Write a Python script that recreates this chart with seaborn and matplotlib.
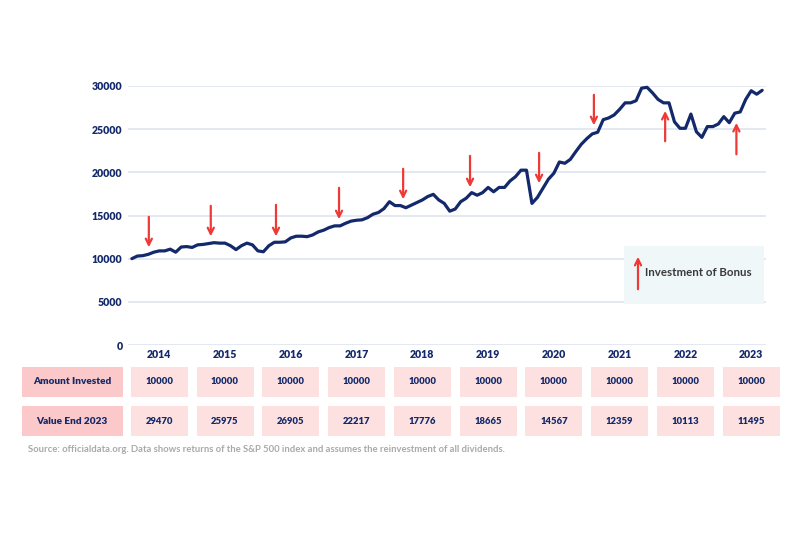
import pandas as pd
import seaborn as sns
import matplotlib.pyplot as plt
from matplotlib.patches import Rectangle
import matplotlib.transforms as mtransforms

# monthly portfolio value, Aug 2013 .. Mar 2023
values = [10000, 10300, 10350, 10500, 10750, 10900, 10900, 11100, 10750, 11350,
          11400, 11300, 11600, 11650, 11750, 11850, 11800, 11800, 11500, 11050,
          11500, 11800, 11600, 10900, 10800, 11500, 11900, 11900, 11950, 12400,
          12600, 12600, 12550, 12750, 13100, 13300, 13600, 13800, 13800, 14100,
          14350, 14450, 14500, 14750, 15150, 15350, 15800, 16600, 16150, 16150,
          15900, 16200, 16500, 16800, 17200, 17450, 16800, 16400, 15500, 15750,
          16600, 17000, 17650, 17350, 17650, 18250, 17750, 18250, 18250, 19000,
          19500, 20250, 20250, 16400, 17100, 18150, 19200, 19900, 21200, 21050,
          21500, 22400, 23250, 23900, 24450, 24650, 26100, 26300, 26650, 27300,
          28050, 28050, 28300, 29750, 29850, 29200, 28450, 28050, 28050, 25850,
          25100, 25100, 26750, 24700, 24050, 25300, 25300, 25600, 26450, 25750,
          26850, 27000, 28450, 29450, 29050, 29500]
dates = pd.date_range("2013-08-01", periods=len(values), freq="MS")

years = ["2014", "2015", "2016", "2017", "2018", "2019", "2020", "2021", "2022", "2023"]
amount_invested = [10000] * 10
value_end_2023 = [29470, 25975, 26905, 22217, 17776, 18665, 14567, 12359, 10113, 11495]

# bonus arrows: month index, start value, end value
down_idx = [3.1, 14.4, 26.3, 37.8, 49.5, 61.7, 74.3, 84.3]
down_from = [15170, 16440, 16560, 18530, 20730, 22230, 22580, 29300]
down_to = [11000, 12270, 12270, 14240, 16560, 17950, 18410, 25130]
up_idx = [97.3, 110.3]
up_from = [23280, 21770]
up_to = [27440, 26050]

navy = "#13296b"
red = "#ee3a36"
heavy = "heavy"

sns.set_style("white")
plt.rcParams["font.family"] = ["Lato", "DejaVu Sans"]

df = pd.DataFrame({"m": range(len(values)), "value": values})
tick_pos = [i for i, d in enumerate(dates) if d.month == 1]

W, H = 800, 533
fig = plt.figure(figsize=(8, 5.33), dpi=100)

ax = fig.add_axes([128 / W, 1 - 345 / H, 638 / W, 259 / H])

# legend box, above the grid, under the line
ax.add_patch(Rectangle((624 / W, 1 - 304 / H), 140 / W, 58 / H,
                       transform=fig.transFigure, color="#f0f7f9", lw=0,
                       zorder=1, clip_on=False))

sns.lineplot(data=df, x="m", y="value", ax=ax, color=navy, linewidth=2.3, zorder=3)
for l in ax.lines:
    l.set_clip_on(False)

for x, a, b in zip(down_idx, down_from, down_to):
    ax.annotate("", xy=(x, b), xytext=(x, a),
                arrowprops=dict(arrowstyle="->", color=red, lw=1.6, mutation_scale=11))
for x, a, b in zip(up_idx, up_from, up_to):
    ax.annotate("", xy=(x, b), xytext=(x, a),
                arrowprops=dict(arrowstyle="->", color=red, lw=1.6, mutation_scale=11))

ax.set_xlim(-0.7, 115.7)
ax.set_ylim(0, 30000)
ax.set_yticks(range(0, 30001, 5000))
ax.set_xticks(tick_pos)
ax.set_xticklabels(years)
ax.yaxis.grid(True, color="#e4e8f0", lw=1.4)
ax.set_axisbelow(True)
sns.despine(ax=ax, left=True, bottom=True)
ax.tick_params(length=0, labelsize=7.6, labelcolor=navy)
ax.tick_params(axis="y", pad=4)
ax.tick_params(axis="x", pad=3)
for t in ax.get_xticklabels() + ax.get_yticklabels():
    t.set_fontweight(heavy)
ax.set_xlabel("")
ax.set_ylabel("")

# table below the chart
tab = fig.add_axes([128 / W, 1 - 437 / H, 638 / W, 71 / H])
tab.set_xlim(ax.get_xlim())
tab.set_ylim(71, 0)
tab.axis("off")
cell_w = 10.4
rows = [(1, amount_invested, "Amount Invested"), (40, value_end_2023, "Value End 2023")]
head_tr = mtransforms.blended_transform_factory(fig.transFigure, tab.transData)
for y0, vals, label in rows:
    tab.add_patch(Rectangle((22 / W, y0), 101 / W, 30, transform=head_tr,
                            color="#fbc9c9", clip_on=False, lw=0))
    tab.text(72 / W, y0 + 15, label, transform=head_tr, ha="center", va="center",
             fontsize=7.2, fontweight=heavy, color=navy)
    for x, v in zip(tick_pos, vals):
        tab.add_patch(Rectangle((x - cell_w / 2, y0), cell_w, 30, color="#fde1e1",
                                clip_on=False, lw=0))
        tab.text(x, y0 + 15, str(v), ha="center", va="center",
                 fontsize=6.8, fontweight=heavy, color=navy)

fig.text(645 / W, 1 - 273 / H, "Investment of Bonus", ha="left", va="center",
         fontsize=8.3, fontweight="bold", color="#3a3a3a")
ax.annotate("", xy=(638 / W, 1 - 254 / H), xytext=(638 / W, 1 - 292 / H),
            xycoords="figure fraction", textcoords="figure fraction",
            arrowprops=dict(arrowstyle="->", color=red, lw=1.6, mutation_scale=11))

fig.text(28 / W, 1 - 449 / H,
         "Source: officialdata.org. Data shows returns of the S&P 500 index and "
         "assumes the reinvestment of all dividends.",
         ha="left", va="center", fontsize=6.8, fontweight="bold", color="#a9a9a9")

fig.savefig("out.png", dpi=100)
